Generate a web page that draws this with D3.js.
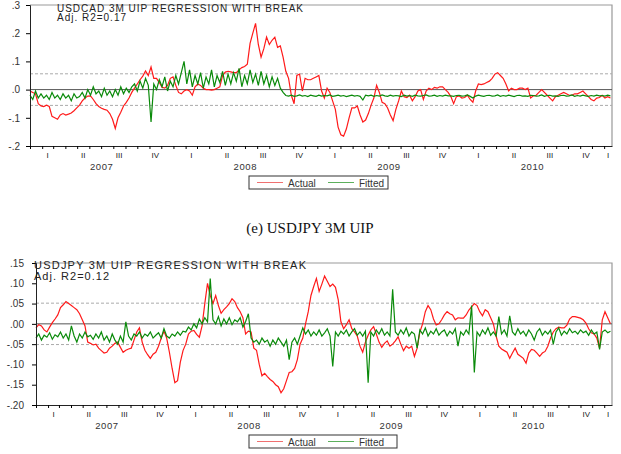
<!DOCTYPE html>
<html>
<head>
<meta charset="utf-8" />
<title>UIP regressions with break</title>
<style>
  body { margin: 0; background: #fff; }
  svg text { font-family: Arial, "Liberation Sans", sans-serif; fill: #333; }
</style>
</head>
<body>
<script src="https://d3js.org/d3.v7.min.js"></script>
<script>
// weekly readings, first week = Jan 2007
var startDate = new Date(2007, 0, 1);
var endDate = new Date(2011, 0, 21);

var quarterLabels = ["I", "II", "III", "IV"];
var yearLabels = [2007, 2008, 2009, 2010];
var seriesNames = ["Actual", "Fitted"];

var cadTicks = [-0.2, -0.1, 0, 0.1, 0.2, 0.3];
var cadTickLabels = ["-.2", "-.1", ".0", ".1", ".2", ".3"];
var cadBand = [-0.056, 0.056];

var jpyTicks = [-0.2, -0.15, -0.1, -0.05, 0, 0.05, 0.1, 0.15];
var jpyTickLabels = ["-.20", "-.15", "-.10", "-.05", ".00", ".05", ".10", ".15"];
var jpyBand = [-0.051, 0.051];

var cadActual = [
  -0.005,-0.01,-0.015,-0.05,-0.058,-0.06,-0.055,-0.06,-0.095,-0.10,
  -0.105,-0.09,-0.085,-0.09,-0.087,-0.083,-0.075,-0.065,-0.055,-0.04,
  -0.03,-0.023,-0.022,-0.035,-0.05,-0.06,-0.066,-0.07,-0.073,-0.085,
  -0.105,-0.138,-0.10,-0.08,-0.058,-0.045,-0.03,-0.01,0.005,0.02,
  0.035,0.048,0.066,0.05,0.08,0.04,0.04,0.025,0.008,0.005,
  0.015,0.04,0.045,0.015,-0.01,-0.015,-0.005,0.0,-0.005,-0.02,
  0.01,0.02,0.015,0.005,0.0,0.0,-0.002,0.0,0.005,0.01,
  0.05,0.062,0.065,0.063,0.06,0.06,0.07,0.078,0.082,0.09,
  0.164,0.2,0.235,0.16,0.115,0.145,0.186,0.16,0.175,0.186,
  0.15,0.155,0.115,0.065,0.04,-0.02,-0.05,0.05,0.055,-0.005,
  0.04,0.035,0.035,0.04,0.045,0.05,-0.005,-0.03,0.005,-0.01,
  -0.04,-0.07,-0.133,-0.16,-0.165,-0.14,-0.10,-0.065,-0.065,-0.058,
  -0.09,-0.115,-0.108,-0.085,-0.055,-0.03,0.015,-0.01,-0.045,-0.05,
  -0.065,-0.09,-0.11,-0.07,-0.04,-0.005,-0.025,-0.028,-0.02,-0.04,
  -0.025,-0.005,0.0,-0.035,-0.005,0.005,0.0,0.008,0.005,0.01,
  0.01,0.0,-0.01,-0.025,-0.05,-0.025,-0.022,-0.03,-0.028,-0.02,
  -0.035,-0.045,-0.005,0.02,0.018,0.02,0.025,0.03,0.04,0.055,
  0.06,0.05,0.04,0.02,-0.005,0.005,0.0,0.0,0.005,0.005,
  0.0,0.005,-0.03,-0.022,-0.02,-0.01,0.0,-0.01,-0.02,-0.03,
  -0.04,-0.025,-0.02,-0.015,-0.01,-0.015,-0.02,-0.02,-0.015,-0.015,
  -0.01,-0.005,-0.015,-0.025,-0.035,-0.04,-0.03,-0.028,-0.02,-0.03,
  -0.025,-0.03
];

var cadFitted = [
  -0.02,-0.035,-0.005,-0.03,-0.015,-0.03,-0.02,-0.035,-0.01,-0.03,
  -0.02,-0.035,-0.015,-0.03,-0.02,-0.04,-0.015,-0.03,-0.025,-0.01,
  -0.03,0.0,-0.02,0.01,-0.015,-0.005,-0.025,0.005,-0.02,-0.005,
  -0.025,0.0,-0.02,0.01,-0.015,0.005,-0.01,0.01,0.02,-0.005,
  0.03,0.005,0.04,0.015,-0.115,0.02,0.0,0.035,0.01,0.045,
  -0.005,0.03,0.01,0.05,0.02,0.06,0.1,0.02,0.07,0.01,
  0.05,0.02,0.06,0.005,0.045,0.02,0.07,0.01,0.05,0.025,
  0.065,0.015,0.055,0.02,0.06,0.03,0.075,0.01,0.05,0.02,
  0.07,0.025,0.055,0.015,0.065,0.02,0.05,0.01,0.045,0.015,
  0.04,0.005,-0.01,
  -0.021,-0.023,-0.02,-0.024,-0.022,-0.019,-0.023,-0.021,-0.025,-0.02,
  -0.022,-0.024,-0.02,-0.023,-0.021,-0.022,-0.019,-0.024,-0.022,-0.02,
  -0.023,-0.021,-0.025,-0.022,-0.02,-0.023,-0.021,-0.024,-0.037,-0.02,
  -0.022,-0.02,-0.024,-0.021,-0.023,-0.019,-0.022,-0.024,-0.02,-0.023,
  -0.021,-0.022,-0.025,-0.02,-0.023,-0.021,-0.024,-0.02,-0.022,-0.023,
  -0.021,-0.019,-0.023,-0.022,-0.02,-0.024,-0.021,-0.023,-0.02,-0.022,
  -0.022,-0.024,-0.021,-0.02,-0.023,-0.022,-0.019,-0.024,-0.03,-0.023,
  -0.02,-0.022,-0.024,-0.021,-0.02,-0.023,-0.022,-0.019,-0.024,-0.021,
  -0.023,-0.02,-0.022,-0.025,-0.021,-0.02,-0.023,-0.022,-0.024,-0.02,
  -0.021,-0.023,-0.022,-0.019,-0.024,-0.021,-0.02,-0.023,-0.022,-0.024,
  -0.021,-0.02,-0.023,-0.022,-0.019,-0.024,-0.021,-0.023,-0.02,-0.022,
  -0.024,-0.021,-0.023,-0.02,-0.022,-0.021,-0.023,-0.02,-0.022
];

var jpyActual = [
  -0.01,-0.002,-0.005,-0.015,-0.02,-0.008,0.003,0.012,0.022,0.04,
  0.047,0.055,0.05,0.045,0.04,0.035,0.025,0.01,-0.005,-0.045,
  -0.048,-0.052,-0.05,-0.06,-0.066,-0.072,-0.07,-0.06,-0.055,-0.048,
  -0.045,-0.058,-0.07,-0.065,-0.062,-0.06,-0.04,-0.02,-0.01,-0.045,
  -0.065,-0.076,-0.085,-0.075,-0.07,-0.055,-0.035,-0.018,-0.035,-0.07,
  -0.11,-0.145,-0.14,-0.095,-0.066,-0.05,-0.025,-0.018,-0.016,-0.026,
  -0.033,-0.005,0.05,0.1,0.07,0.05,0.07,0.045,0.026,0.035,
  0.042,0.05,0.062,0.055,0.04,0.03,0.015,-0.025,-0.018,-0.02,
  -0.06,-0.065,-0.1,-0.128,-0.122,-0.13,-0.137,-0.142,-0.15,-0.155,
  -0.17,-0.16,-0.14,-0.12,-0.118,-0.11,-0.088,-0.05,-0.035,0.0,
  0.03,0.07,0.092,0.112,0.08,0.098,0.118,0.105,0.092,0.098,
  0.09,0.06,0.005,-0.012,-0.002,0.01,-0.012,-0.02,-0.03,-0.055,
  -0.07,-0.045,-0.028,-0.015,-0.007,-0.025,-0.045,-0.058,-0.048,-0.042,
  -0.055,-0.05,-0.042,-0.032,-0.05,-0.066,-0.055,-0.06,-0.055,-0.08,
  -0.06,-0.02,0.0,0.03,0.045,0.035,0.012,-0.003,0.0,0.01,
  0.022,0.03,0.025,0.022,0.01,0.015,0.014,0.014,0.022,0.034,
  0.042,0.05,0.045,0.03,0.02,0.035,0.03,0.015,0.0,-0.03,
  -0.055,-0.062,-0.066,-0.07,-0.085,-0.072,-0.06,-0.075,-0.08,-0.085,
  -0.097,-0.072,-0.063,-0.065,-0.072,-0.08,-0.072,-0.068,-0.055,-0.035,
  -0.02,-0.012,-0.008,-0.01,-0.01,-0.003,0.012,0.018,0.018,0.016,
  0.014,0.01,0.002,-0.012,-0.022,-0.025,-0.035,-0.06,0.01,0.03,
  0.015,0.0
];

var jpyFitted = [
  -0.035,-0.025,-0.04,-0.028,-0.033,-0.022,-0.038,-0.027,-0.032,-0.02,
  -0.035,-0.025,-0.04,-0.005,-0.03,-0.045,-0.025,-0.035,-0.02,-0.032,
  -0.028,-0.038,
  -0.025,-0.035,-0.02,-0.04,-0.03,-0.045,-0.025,-0.04,-0.05,-0.03,
  -0.045,0.005,-0.03,-0.04,
  -0.025,-0.03,-0.02,-0.035,-0.025,-0.03,-0.02,-0.035,-0.028,-0.022,
  -0.035,-0.012,-0.03,
  -0.035,-0.025,-0.03,-0.02,-0.028,-0.018,
  -0.02,-0.008,-0.015,0.0,-0.01,0.012,0.0,
  0.015,0.005,0.112,0.01,0.0,0.018,-0.005,0.012,0.0,0.015,
  -0.002,0.01,0.005,0.015,-0.008,0.006,0.025,
  -0.035,-0.045,-0.04,-0.05,-0.035,-0.045,-0.04,-0.055,-0.04,-0.05,
  -0.035,-0.045,-0.055,-0.04,-0.088,-0.045,-0.035,-0.05,-0.03,
  -0.01,-0.025,-0.015,-0.03,-0.02,-0.028,-0.015,-0.03,-0.022,-0.012,
  -0.03,-0.105,-0.02,-0.03,-0.018,
  -0.025,-0.015,-0.03,-0.02,-0.012,-0.028,-0.02,-0.03,-0.018,-0.145,
  -0.02,-0.03,-0.015,-0.025,-0.012,-0.028,-0.02,-0.03,0.085,-0.02,
  -0.028,-0.015,-0.025,-0.01,-0.03,-0.02,-0.025,-0.06,-0.015,-0.025,
  -0.01,-0.03,-0.018,-0.025,-0.012,-0.028,-0.02,-0.015,-0.03,-0.018,
  -0.025,-0.012,-0.055,-0.02,-0.028,-0.015,-0.025,0.045,-0.12,-0.02,
  -0.03,-0.015,-0.025,-0.01,-0.028,-0.02,-0.03,0.018,-0.025,-0.015,
  -0.03,0.02,-0.02,-0.028,-0.012,-0.025,-0.018,-0.03,-0.015,-0.025,
  -0.04,-0.02,-0.012,-0.028,-0.018,-0.025,-0.015,-0.05,-0.02,-0.01,
  -0.028,-0.018,-0.025,-0.012,-0.022,-0.018,-0.025,-0.015,-0.022,-0.018,
  -0.028,-0.015,-0.025,-0.02,-0.063,-0.02,-0.015,-0.022,-0.018
];

var actualColor = "#ff1a1a";
var fittedColor = "#0a8a0a";
var legendColors = ["#f07070", "#5cb05c"];

var svg = d3.select("body").append("svg")
            .attr("width", 621)
            .attr("height", 454);

var panels = [
  {title: "USDCAD 3M UIP REGRESSION WITH BREAK", r2: "Adj. R2=0.17",
   actual: cadActual, fitted: cadFitted, domain: [-0.2, 0.3],
   ticks: cadTicks, tickLabels: cadTickLabels, band: cadBand,
   left: 30, right: 612, top: 5, bottom: 146, pad: 6,
   titleX: 57, titleY: 11.5, r2Y: 21, titleW: 246, r2W: 69, fs: 10, legendW: 139},
  {title: "USDJPY 3M UIP REGRESSION WITH BREAK", r2: "Adj. R2=0.12",
   actual: jpyActual, fitted: jpyFitted, domain: [-0.2, 0.15],
   ticks: jpyTicks, tickLabels: jpyTickLabels, band: jpyBand,
   left: 36, right: 612, top: 263, bottom: 405, pad: 8,
   titleX: 34, titleY: 268.5, r2Y: 280, titleW: 272, r2W: 75, fs: 11, legendW: 148}
];

panels.forEach(function(p) {
  var x = d3.scaleTime().domain([startDate, endDate]).range([p.left, p.right]);
  var y = d3.scaleLinear().domain(p.domain).range([p.bottom, p.top]);
  var g = svg.append("g");

  // frame top / right
  g.append("path")
   .attr("d", "M" + p.left + "," + p.top + "H" + p.right + "V" + p.bottom)
   .attr("fill", "none").attr("stroke", "#999").attr("stroke-width", 1.2);

  // band lines and zero line
  p.band.forEach(function(b) {
    g.append("line")
     .attr("x1", p.left).attr("x2", p.right)
     .attr("y1", y(b)).attr("y2", y(b))
     .attr("stroke", "#aaa").attr("stroke-dasharray", "3,2");
  });
  g.append("line")
   .attr("x1", p.left).attr("x2", p.right)
   .attr("y1", y(0)).attr("y2", y(0))
   .attr("stroke", "#555");

  var line = d3.line()
    .x(function(d, i) { return x(d3.timeDay.offset(startDate, i * 7)); })
    .y(function(d) { return y(d); });

  g.append("path").attr("d", line(p.actual))
   .attr("fill", "none").attr("stroke", actualColor).attr("stroke-width", 1.2);
  g.append("path").attr("d", line(p.fitted))
   .attr("fill", "none").attr("stroke", fittedColor).attr("stroke-width", 1.2);

  // y axis
  var yAxis = d3.axisLeft(y).tickValues(p.ticks)
      .tickFormat(function(d, i) { return p.tickLabels[i]; })
      .tickSize(4).tickPadding(p.pad);
  var ya = g.append("g").attr("transform", "translate(" + p.left + ",0)").call(yAxis);
  ya.selectAll("text").style("font-size", "10px");
  ya.select(".domain").attr("stroke", "#222");

  // x axis, monthly ticks
  var xAxis = d3.axisBottom(x).ticks(d3.timeMonth.every(1)).tickFormat("")
      .tickSizeInner(3).tickSizeOuter(0);
  var xa = g.append("g").attr("transform", "translate(0," + p.bottom + ")").call(xAxis);
  xa.select(".domain").attr("stroke", "#222");

  // quarter labels
  for (var yr = 2007; yr <= 2011; yr++) {
    for (var q = 0; q < 4; q++) {
      var qs = new Date(yr, q * 3, 1);
      if (qs >= endDate) break;
      var qe = new Date(yr, q * 3 + 3, 1);
      if (qe > endDate) qe = endDate;
      g.append("text")
       .attr("x", (x(qs) + x(qe)) / 2)
       .attr("y", p.bottom + 12)
       .attr("text-anchor", "middle")
       .style("font-size", "8px")
       .style("fill", "#222")
       .text(quarterLabels[q]);
    }
  }
  yearLabels.forEach(function(yl) {
    g.append("text")
     .attr("x", (x(new Date(yl, 0, 1)) + x(new Date(yl + 1, 0, 1))) / 2)
     .attr("y", p.bottom + 24)
     .attr("text-anchor", "middle")
     .style("font-size", "9.5px")
     .attr("letter-spacing", "0.6px")
     .text(yl);
  });

  // title
  g.append("text").attr("x", p.titleX).attr("y", p.titleY)
   .style("font-size", p.fs + "px").style("fill", "#222")
   .attr("textLength", p.titleW).attr("lengthAdjust", "spacing")
   .text(p.title);
  g.append("text").attr("x", p.titleX).attr("y", p.r2Y)
   .style("font-size", p.fs + "px").style("fill", "#222")
   .attr("textLength", p.r2W).attr("lengthAdjust", "spacing")
   .text(p.r2);

  // legend
  var lg = g.append("g").attr("transform", "translate(249," + (p.bottom + 30) + ")");
  lg.append("rect").attr("width", p.legendW).attr("height", 13)
    .attr("fill", "#fff").attr("stroke", "#333");
  legendColors.forEach(function(c, i) {
    var ox = 8 + i * 71;
    lg.append("line").attr("x1", ox).attr("x2", ox + 26)
      .attr("y1", 6.5).attr("y2", 6.5)
      .attr("stroke", c);
    lg.append("text").attr("x", ox + 31).attr("y", 10.5)
      .style("font-size", "10px")
      .text(seriesNames[i]);
  });
});

svg.append("text")
   .attr("x", 310).attr("y", 233)
   .attr("text-anchor", "middle")
   .style("font-family", "'Liberation Serif', 'DejaVu Serif', serif")
   .style("font-size", "15px")
   .style("fill", "#111")
   .text("(e) USDJPY 3M UIP");
</script>
</body>
</html>
